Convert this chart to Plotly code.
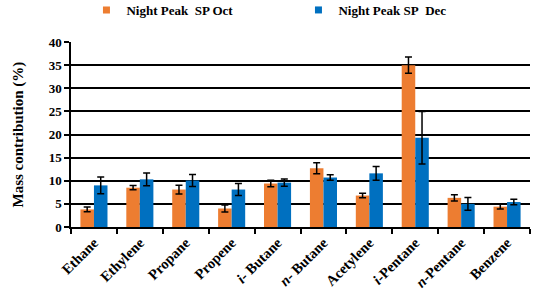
import plotly.graph_objects as go

categories = ["Ethane", "Ethylene", "Propane", "Propene", "<i>i</i>- Butane",
              "<i>n</i>- Butane", "Acetylene", "<i>i</i>-Pentane", "<i>n</i>-Pentane", "Benzene"]
oct_vals = [3.8, 8.5, 8.1, 4.0, 9.4, 12.7, 6.8, 35.0, 6.3, 4.4]
oct_err = [0.5, 0.45, 0.95, 0.75, 0.7, 1.2, 0.5, 1.75, 0.7, 0.5]
dec_vals = [9.0, 10.3, 10.05, 8.1, 9.6, 10.7, 11.6, 19.3, 5.0, 5.4]
dec_err = [1.8, 1.4, 1.3, 1.3, 0.8, 0.6, 1.5, 5.7, 1.4, 0.6]

series_names = ["<b>Night Peak&nbsp; SP Oct</b>", "<b>Night Peak SP&nbsp; Dec</b>"]
series_colors = ["#ED7D31", "#0070C0"]

font_family = "Liberation Serif, Times New Roman, serif"

fig = go.Figure()
for vals, errs, name, color in [(oct_vals, oct_err, series_names[0], series_colors[0]),
                                (dec_vals, dec_err, series_names[1], series_colors[1])]:
    fig.add_trace(go.Bar(
        x=categories, y=vals, name=name, showlegend=False,
        marker=dict(color=color, line=dict(width=0)),
        error_y=dict(type="data", array=errs, color="black", thickness=1.5, width=3.5),
    ))
# legend entries with small square swatches
for name, color in zip(series_names, series_colors):
    fig.add_trace(go.Scatter(
        x=[None], y=[None], mode="markers", name=name,
        marker=dict(symbol="square", size=7, color=color),
    ))

fig.update_layout(
    width=537, height=302,
    margin=dict(l=71, r=7, t=42, b=75, autoexpand=False),
    paper_bgcolor="white", plot_bgcolor="white",
    barmode="group", bargap=0.41, bargroupgap=0,
    font=dict(family=font_family, color="black", size=13),
    showlegend=True,
    legend=dict(orientation="h", xref="container", yref="container",
                x=0.161, y=1 - 10 / 302, xanchor="left", yanchor="middle",
                font=dict(size=13, family=font_family),
                entrywidth=167, entrywidthmode="pixels",
                itemwidth=30, bgcolor="rgba(0,0,0,0)"),
    xaxis=dict(
        type="category", showline=True, linecolor="black", linewidth=1.5,
        ticks="outside", tickson="boundaries", ticklen=5, tickcolor="black", tickwidth=1.5,
        tickangle=-45, tickfont=dict(size=14.5, family=font_family),
        showgrid=False, automargin=False,
    ),
    yaxis=dict(
        range=[0, 40], dtick=5, showline=True, linecolor="black", linewidth=1.5,
        ticks="outside", ticklen=5, tickcolor="black", tickwidth=1.5,
        showgrid=True, gridcolor="black", gridwidth=1.5,
        tickfont=dict(size=13, family=font_family),
        zeroline=False, automargin=False,
    ),
    annotations=[dict(
        text="<b>Mass contribution (%)</b>", textangle=-90,
        xref="paper", yref="paper", x=-(71 - 18) / 459, y=0.5,
        xanchor="center", yanchor="middle", showarrow=False,
        font=dict(size=15, family=font_family),
    )],
)
fig.update_xaxes(tickprefix="<b>", ticksuffix="</b>")
fig.update_yaxes(tickprefix="<b>", ticksuffix="</b>")

fig.write_html("out.html", config={"displayModeBar": False},
               post_script="document.body.style.margin='0px';")
